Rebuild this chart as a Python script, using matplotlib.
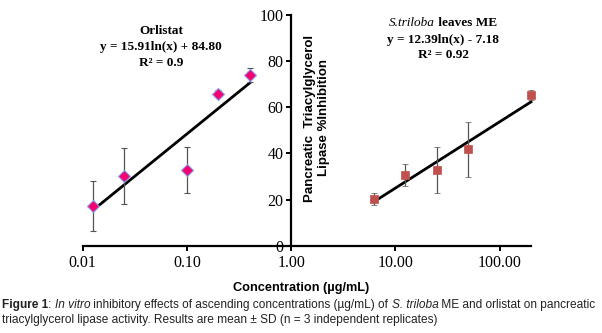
import matplotlib
matplotlib.use('Agg')
import matplotlib.pyplot as plt
import numpy as np

# data
orl_conc = [0.0125, 0.025, 0.1, 0.2, 0.4]
orl_inhib = [17.2, 30.2, 32.8, 65.8, 73.9]
orl_sd = [11.0, 12.0, 10.0, 1.5, 3.0]

str_conc = [6.25, 12.5, 25, 50, 200]
str_inhib = [20.3, 30.5, 32.8, 41.7, 65.1]
str_sd = [2.6, 4.8, 10.0, 12.0, 2.2]

x_ticks = [0.01, 0.1, 1, 10, 100]
x_ticklabels = ['0.01', '0.10', '1.00', '10.00', '100.00']
y_ticks = [0, 20, 40, 60, 80, 100]

SERIF = 'Liberation Serif'
SANS = 'Liberation Sans'


def put_runs(fig, x, y, runs, ha='left', size=8, family=SANS, color='black'):
    # draw a row of differently styled text pieces, x/y in pixels from top-left
    r = fig.canvas.get_renderer()
    W, H = fig.bbox.width, fig.bbox.height
    texts = []
    for s, style, weight in runs:
        t = fig.text(0, 0, s, fontsize=size, family=family, style=style,
                     weight=weight, color=color, va='center', ha='left')
        texts.append(t)
    widths = [t.get_window_extent(renderer=r).width for t in texts]
    total = sum(widths)
    if ha == 'center':
        x0 = x - total / 2
    else:
        x0 = x
    for t, w in zip(texts, widths):
        t.set_position((x0 / W, 1 - y / H))
        x0 += w


def trend(ax, conc, inhib):
    slope, icpt = np.polyfit(np.log(conc), inhib, 1)
    xs = np.array([min(conc), max(conc)])
    ax.plot(xs, slope * np.log(xs) + icpt, color='black', lw=2, zorder=2, clip_on=False)


def main():
    fig = plt.figure(figsize=(6.02, 3.33), dpi=100)
    W, H = 602, 333
    left, right, bottom, top = 82.7, 531, 245.7, 14.7
    ax = fig.add_axes([left / W, 1 - bottom / H, (right - left) / W, (bottom - top) / H])

    ax.set_xscale('log')
    ax.set_xlim(0.01, 200)
    ax.set_ylim(0, 100)

    trend(ax, orl_conc, orl_inhib)
    trend(ax, str_conc, str_inhib)

    for conc, inhib, sd, kw in [
            (orl_conc, orl_inhib, orl_sd, dict(fmt='D', ms=6.5, mfc='#f5006e', mec='#8a9cf0', mew=0.8)),
            (str_conc, str_inhib, str_sd, dict(fmt='s', ms=6, mfc='#c0504d', mec='#c0504d', mew=0.5))]:
        cont = ax.errorbar(conc, inhib, yerr=sd, ecolor='#555555', elinewidth=0.9,
                           capsize=2.5, capthick=0.9, zorder=3, **kw)
        for art in cont.get_children():
            art.set_clip_on(False)

    for s in ['top', 'right']:
        ax.spines[s].set_visible(False)
    ax.spines['left'].set_position(('data', 1))
    ax.spines['left'].set_linewidth(1.6)
    ax.spines['bottom'].set_linewidth(1.6)

    ax.set_xticks(x_ticks)
    ax.set_xticklabels(x_ticklabels)
    ax.xaxis.set_minor_locator(matplotlib.ticker.NullLocator())
    ax.set_yticks(y_ticks)
    ax.tick_params(direction='out', length=3.5, width=1.4, labelsize=11.5, pad=3)
    for lab in ax.get_xticklabels() + ax.get_yticklabels():
        lab.set_family(SERIF)
    ax.tick_params(axis='y', pad=2)

    # y label sits right of the spine
    fig.text(317 / W, 1 - 118 / H, 'Pancreatic  Triacylglycerol\nLipase %Inhibition',
             rotation=90, ha='center', va='center', fontsize=9.5, weight='bold',
             family=SANS, linespacing=1.2)
    fig.text(301 / W, 1 - 288 / H, 'Concentration (µg/mL)', ha='center', va='center',
             fontsize=9.2, weight='bold', family=SANS)

    # annotations
    for yy, s in [(31, 'Orlistat'), (47, 'y = 15.91ln(x) + 84.80'), (63, 'R² = 0.9')]:
        fig.text(161 / W, 1 - yy / H, s, ha='center', va='center', fontsize=9.5,
                 weight='bold', family=SERIF)
    put_runs(fig, 443, 23, [('S.triloba', 'italic', 'normal'), (' leaves ME', 'normal', 'bold')],
             ha='center', size=9.5, family=SERIF)
    for yy, s in [(40, 'y = 12.39ln(x) - 7.18'), (55, 'R² = 0.92')]:
        fig.text(443 / W, 1 - yy / H, s, ha='center', va='center', fontsize=9.5,
                 weight='bold', family=SERIF)

    # caption
    put_runs(fig, 2, 305, [('Figure 1', 'normal', 'bold'), (': ', 'normal', 'normal'),
                           ('In vitro', 'italic', 'normal'),
                           (' inhibitory effects of ascending concentrations (µg/mL) of ', 'normal', 'normal'),
                           ('S. triloba', 'italic', 'normal'),
                           (' ME and orlistat on pancreatic', 'normal', 'normal')],
             size=8.6, color='#222222')
    put_runs(fig, 2, 320, [('triacylglycerol lipase activity. Results are mean ± SD (n = 3 independent replicates)',
                            'normal', 'normal')], size=8.6, color='#222222')

    fig.savefig('out.png', dpi=100)


if __name__ == '__main__':
    main()
